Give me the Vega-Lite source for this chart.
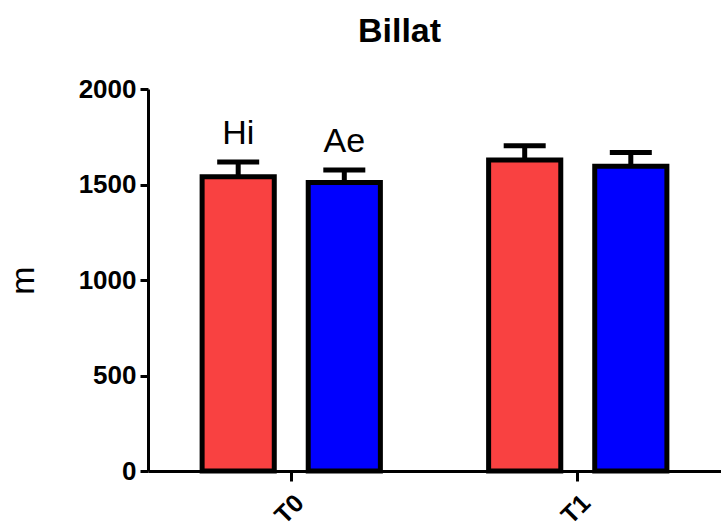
{
  "$schema": "https://vega.github.io/schema/vega-lite/v6.json",
  "autosize": "none",
  "width": 573,
  "height": 382,
  "padding": {"left": 148, "top": 89, "right": 0, "bottom": 61},
  "background": "white",
  "title": {"text": "Billat", "fontSize": 34, "fontWeight": "bold", "font": "Liberation Sans", "color": "black", "anchor": "middle", "dx": -35, "offset": 27},
  "config": {
    "view": {"stroke": null},
    "font": "Liberation Sans",
    "axis": {"grid": false, "domainColor": "black", "tickColor": "black", "labelColor": "black", "titleColor": "black"}
  },
  "data": {"values": [
    {"time": "T0", "group": "Hi", "m": 1540, "upper": 1618, "label": "Hi"},
    {"time": "T0", "group": "Ae", "m": 1510, "upper": 1576, "label": "Ae"},
    {"time": "T1", "group": "Hi", "m": 1628, "upper": 1703, "label": ""},
    {"time": "T1", "group": "Ae", "m": 1595, "upper": 1667, "label": ""}
  ]},
  "encoding": {
    "x": {"field": "time", "type": "nominal", "scale": {"paddingInner": 0, "paddingOuter": 0},
      "axis": {"title": null, "domainWidth": 3, "tickWidth": 3, "tickSize": 10, "labelAngle": -45, "labelFontSize": 25, "labelFontWeight": "bold", "labelPadding": 9}},
    "xOffset": {"field": "group", "type": "nominal", "sort": ["Hi", "Ae"], "scale": {"paddingInner": 0.32, "paddingOuter": 0.51}}
  },
  "layer": [
    {
      "mark": {"type": "rule", "strokeWidth": 5, "color": "black"},
      "encoding": {
        "y": {"field": "m", "type": "quantitative"},
        "y2": {"field": "upper"}
      }
    },
    {
      "mark": {"type": "tick", "orient": "horizontal", "thickness": 5, "size": 42, "color": "black", "opacity": 1},
      "encoding": {
        "y": {"field": "upper", "type": "quantitative"}
      }
    },
    {
      "mark": {"type": "bar", "stroke": "black", "strokeWidth": 5, "strokeJoin": "miter"},
      "encoding": {
        "y": {"field": "m", "type": "quantitative", "scale": {"domain": [0, 2000]},
          "axis": {"title": "m", "format": "d", "values": [0, 500, 1000, 1500, 2000], "domainWidth": 3, "tickWidth": 3, "tickSize": 8, "labelFontSize": 26, "labelFontWeight": "bold", "labelPadding": 4, "titleFontSize": 34, "titleFontWeight": "normal", "titlePadding": 38}},
        "color": {"field": "group", "type": "nominal", "scale": {"domain": ["Hi", "Ae"], "range": ["#F94141", "#0000FF"]}, "legend": null}
      }
    },
    {
      "mark": {"type": "text", "fontSize": 34, "baseline": "bottom", "dy": -11, "color": "black"},
      "encoding": {
        "y": {"field": "upper", "type": "quantitative"},
        "text": {"field": "label"}
      }
    }
  ]
}
